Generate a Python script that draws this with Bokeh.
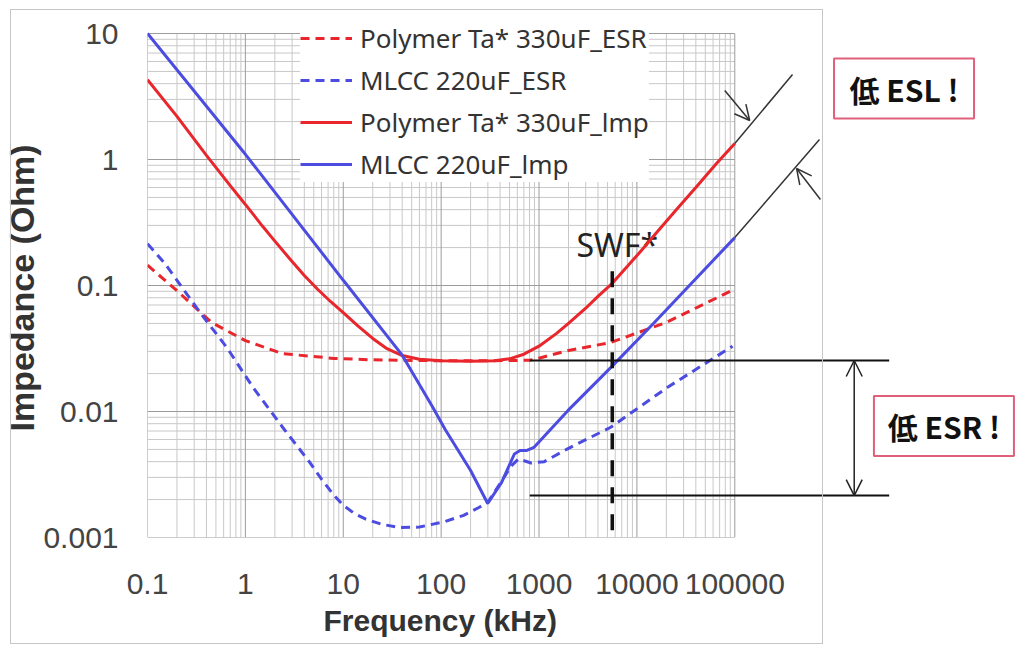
from bokeh.plotting import figure
from bokeh.models import (Range1d, FixedTicker, Legend, LegendItem, Arrow,
                          OpenHead, Title, InlineStyleSheet)
from bokeh.embed import file_html
from bokeh.resources import INLINE
from bokeh.core.properties import value

# ---------------- data ----------------
ta_esr_f = [0.1, 0.2, 0.45, 1, 2.4, 8, 20, 50, 100, 300, 800, 1000, 2000, 5400, 20000, 90000]
ta_esr_z = [0.145, 0.091, 0.051, 0.0365, 0.0288, 0.0264, 0.0257, 0.0254, 0.0253, 0.0253,
            0.0255, 0.0265, 0.0305, 0.0353, 0.051, 0.09]

mlcc_esr_f = [0.1, 0.15, 0.2, 0.35, 0.65, 1.2, 2.4, 4.6, 6, 7.9, 10, 13, 17, 25, 38, 60,
              110, 170, 243, 299, 415, 520, 617, 830, 1130, 2000, 5400, 20400, 95000]
mlcc_esr_z = [0.215, 0.15, 0.11, 0.06, 0.032, 0.0155, 0.0075, 0.0039, 0.0029, 0.0022,
              0.0018, 0.00155, 0.0014, 0.00127, 0.0012, 0.00121, 0.00134, 0.0015, 0.00173,
              0.0019, 0.0028, 0.0037, 0.0042, 0.0039, 0.004, 0.0051, 0.0075, 0.0155, 0.033]

ta_imp_f = [0.1, 0.2, 0.4, 0.7, 1, 1.5, 2, 3, 4, 5.5, 7.5, 10, 14, 20, 28, 40, 60, 100, 200,
            350, 500, 700, 1000, 1500, 2000, 3000, 4000, 5600, 8000, 11000, 16000, 25000,
            40000, 65000, 100000]
ta_imp_z = [4.3, 2.2, 1.08, 0.62, 0.44, 0.295, 0.225, 0.155, 0.12, 0.093, 0.074, 0.061,
            0.048, 0.038, 0.0315, 0.0278, 0.026, 0.0253, 0.0251, 0.0253, 0.0262, 0.0285,
            0.033, 0.0415, 0.05, 0.066, 0.082, 0.104, 0.142, 0.188, 0.265, 0.395, 0.6,
            0.93, 1.34]

mlcc_imp_f = [0.1, 1, 10, 40, 81, 110, 200, 299, 415, 560, 640, 740, 890, 1980, 5400,
              14750, 100000]
mlcc_imp_z = [10, 1.1, 0.11, 0.028, 0.011, 0.0072, 0.0034, 0.00186, 0.00274, 0.0046,
              0.0049, 0.0049, 0.0052, 0.0102, 0.0223, 0.05, 0.24]

series_names = ["Polymer Ta* 330uF_ESR", "MLCC 220uF_ESR",
                "Polymer Ta* 330uF_lmp", "MLCC 220uF_lmp"]

x_ticks = [0.1, 1, 10, 100, 1000, 10000, 100000]
x_tick_labels = ["0.1", "1", "10", "100", "1000", "10000", "100000"]
y_ticks = [0.001, 0.01, 0.1, 1, 10]
y_tick_labels = ["0.001", "0.01", "0.1", "1", "10"]

# annotation anchors (data coordinates)
swf_f = 5600
swf_top = 0.13
swf_text_xy = (6300, 0.212)
esr_hi = 0.0254
esr_lo = 0.00215
esr_line_x = (803, 3.78e6)
esr_arrow_x = 1.66e6
esl_up_end = (3.89e5, 4.73)
esl_lo_end = (7.33e5, 1.44)
esl_arrow1 = ((7.9e4, 3.53), (1.42e5, 2.04))
esl_arrow2 = ((7.5e5, 0.482), (4.28e5, 0.848))
esl_box = (5.36e6, 3.66)
esr_box = (1.37e7, 0.00767)

RED = "#e8262c"
BLUE = "#4c4ce0"
GRID_MINOR = "#c8c8c8"
GRID_MAJOR = "#9c9c9c"

border_css = InlineStyleSheet(css="""
:host::after {
  content: ""; position: absolute; left: 10px; top: 9px; width: 813px; height: 635px;
  border: 1.5px solid #c6c6c6; box-sizing: border-box; pointer-events: none;
}
""")

p = figure(width=1020, height=646, x_axis_type="log", y_axis_type="log",
           x_range=Range1d(0.1, 10 ** 7.919), y_range=Range1d(0.001, 10 ** 1.151),
           output_backend="svg", toolbar_location=None,
           min_border_left=143, min_border_right=0, min_border_top=14, min_border_bottom=109)
p.stylesheets = [border_css]
p.xgrid.visible = False
p.ygrid.visible = False
p.outline_line_color = None
p.background_fill_color = "white"
p.border_fill_color = "white"

# ---------------- grid limited to the plot area ----------------
x0, x1 = x_ticks[0], x_ticks[-1]
y0, y1 = y_ticks[0], y_ticks[-1]
gx_minor = [k * 10.0 ** d for d in range(-1, 5) for k in range(2, 10)]
gy_minor = [k * 10.0 ** d for d in range(-3, 1) for k in range(2, 10)]
p.segment(x0=gx_minor, y0=[y0] * len(gx_minor), x1=gx_minor, y1=[y1] * len(gx_minor),
          line_color=GRID_MINOR, line_width=1)
p.segment(x0=[x0] * len(gy_minor), y0=gy_minor, x1=[x1] * len(gy_minor), y1=gy_minor,
          line_color=GRID_MINOR, line_width=1)
p.segment(x0=x_ticks, y0=[y0] * len(x_ticks), x1=x_ticks, y1=[y1] * len(x_ticks),
          line_color=GRID_MAJOR, line_width=1)
p.segment(x0=[x0] * len(y_ticks), y0=y_ticks, x1=[x1] * len(y_ticks), y1=y_ticks,
          line_color=GRID_MAJOR, line_width=1)

# ---------------- SWF text (under curves) ----------------
p.text(x=[swf_text_xy[0]], y=[swf_text_xy[1]], text=["SWF*"], text_font=value("Noto Sans"),
       text_font_size="32px", text_color="#222222", text_align="center",
       text_baseline="middle")

# ---------------- curves ----------------
r1 = p.line(ta_esr_f, ta_esr_z, line_color=RED, line_width=3, line_dash="9 6")
r2 = p.line(mlcc_esr_f, mlcc_esr_z, line_color=BLUE, line_width=3, line_dash="9 6")
r3 = p.line(ta_imp_f, ta_imp_z, line_color=RED, line_width=3)
r4 = p.line(mlcc_imp_f, mlcc_imp_z, line_color=BLUE, line_width=3)

# ---------------- SWF dashed line ----------------
p.line([swf_f, swf_f], [swf_top, y0], line_color="#111111", line_width=3.5, line_dash="16 11")

# ---------------- ESR annotation ----------------
p.segment(x0=[esr_line_x[0]] * 2, y0=[esr_hi, esr_lo], x1=[esr_line_x[1]] * 2,
          y1=[esr_hi, esr_lo], line_color="#111111", line_width=2)
p.add_layout(Arrow(start=OpenHead(size=16, line_width=1.5, line_color="#222222"),
                   end=OpenHead(size=16, line_width=1.5, line_color="#222222"),
                   x_start=esr_arrow_x, y_start=esr_hi, x_end=esr_arrow_x, y_end=esr_lo,
                   line_color="#222222", line_width=1.5))

# ---------------- ESL annotation ----------------
p.segment(x0=[ta_imp_f[-1], mlcc_imp_f[-1]], y0=[ta_imp_z[-1], mlcc_imp_z[-1]],
          x1=[esl_up_end[0], esl_lo_end[0]], y1=[esl_up_end[1], esl_lo_end[1]],
          line_color="#333333", line_width=1.5)
for (sx, sy), (ex, ey) in (esl_arrow1, esl_arrow2):
    p.add_layout(Arrow(end=OpenHead(size=15, line_width=1.5, line_color="#333333"),
                       x_start=sx, y_start=sy, x_end=ex, y_end=ey,
                       line_color="#333333", line_width=1.5))

# ---------------- boxed labels ----------------
p.rect(x=[esl_box[0], esr_box[0]], y=[esl_box[1], esr_box[1]], width=140, height=60,
       width_units="screen", height_units="screen", fill_color="white",
       line_color="#e0607c", line_width=2)
p.text(x=[esl_box[0], esr_box[0]], y=[esl_box[1], esr_box[1]], text=["低 ESL !", "低 ESR !"],
       text_font=value("Noto Sans CJK JP"), text_font_style="bold", text_font_size="30px",
       text_color="#111111", text_align="center", text_baseline="middle")

# ---------------- axes ----------------
p.xaxis.ticker = FixedTicker(ticks=x_ticks)
p.xaxis.major_label_overrides = {t: s for t, s in zip(x_ticks, x_tick_labels)}
p.yaxis.ticker = FixedTicker(ticks=y_ticks)
p.yaxis.major_label_overrides = {t: s for t, s in zip(y_ticks, y_tick_labels)}
for ax in (p.xaxis, p.yaxis):
    ax.axis_line_color = None
    ax.major_tick_line_color = None
    ax.minor_tick_line_color = None
    ax.major_label_text_font = "Liberation Sans"
    ax.major_label_text_font_size = "30px"
    ax.major_label_text_color = "#444444"
p.xaxis.major_label_standoff = 30
p.yaxis.major_label_standoff = 23

p.add_layout(Title(text="Impedance (Ohm)", align="left", offset=106, standoff=0,
                   text_font="Liberation Sans", text_font_style="bold",
                   text_font_size="34px", text_color="#333333"), "left")
p.add_layout(Title(text="Frequency (kHz)", align="left", offset=176, standoff=11,
                   text_font="Liberation Sans", text_font_style="bold",
                   text_font_size="30px", text_color="#333333"), "below")

# ---------------- legend ----------------
items = [LegendItem(label=n, renderers=[r]) for n, r in zip(series_names, [r1, r2, r3, r4])]
legend = Legend(items=items, location=(153, 355), glyph_width=52, glyph_height=30,
                label_height=30, spacing=6, padding=12, margin=0, label_standoff=8,
                label_text_font="Noto Sans", label_text_font_size="26px",
                label_text_color="#333333", background_fill_color="white",
                background_fill_alpha=1.0, border_line_color=None)
p.add_layout(legend)

open("out.html", "w").write(file_html(p, INLINE))
